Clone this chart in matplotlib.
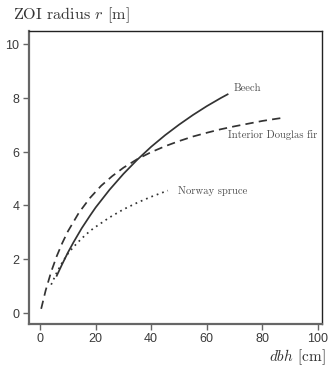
import matplotlib
matplotlib.use("Agg")
import matplotlib.pyplot as plt

# ZOI radius vs stem diameter for three species
beech_dbh = [6, 8, 10, 12, 15, 18, 20, 25, 30, 35, 40, 45, 50, 55, 60, 65, 67.5]
beech_r = [1.38, 1.82, 2.24, 2.62, 3.15, 3.62, 3.92, 4.58, 5.17, 5.70, 6.18,
           6.61, 7.00, 7.36, 7.69, 7.99, 8.13]

fir_dbh = [0.4, 2, 4, 6, 8, 10, 14, 18, 22, 26, 30, 35, 40, 45, 50, 55, 60,
           65, 70, 75, 80, 85, 87]
fir_r = [0.15, 0.83, 1.53, 2.11, 2.60, 3.03, 3.73, 4.28, 4.73, 5.09, 5.40,
         5.72, 5.98, 6.20, 6.39, 6.56, 6.70, 6.83, 6.94, 7.04, 7.14, 7.22, 7.25]

spruce_dbh = [4, 6, 8, 10, 12, 15, 18, 20, 25, 30, 35, 40, 46]
spruce_r = [1.05, 1.50, 1.88, 2.20, 2.45, 2.77, 3.05, 3.20, 3.55, 3.85, 4.10,
            4.32, 4.55]

species = ["Beech", "Interior Douglas fir", "Norway spruce"]
label_pos = [(69.8, 8.36), (67.6, 6.62), (49.6, 4.54)]

xticks = [0, 20, 40, 60, 80, 100]
yticks = [0, 2, 4, 6, 8, 10]

plt.rcParams["mathtext.fontset"] = "cm"
plt.rcParams["axes.formatter.use_mathtext"] = True

fig = plt.figure(figsize=(3.29, 3.71), dpi=100)
ax = fig.add_axes([0.088, 0.127, 0.891, 0.789])

line_col = "#333333"
ax.plot(beech_dbh, beech_r, color=line_col, lw=1.25, ls="-")
ax.plot(fir_dbh, fir_r, color=line_col, lw=1.25, ls=(0, (4.8, 3)))
ax.plot(spruce_dbh, spruce_r, color=line_col, lw=1.25, ls=(0, (1, 2.3)))

for name, (px, py) in zip(species, label_pos):
    ax.text(px, py, name, family="cmr10", fontsize=7.7, color="#505050",
            ha="left", va="center")

ax.set_xlim(-4, 101.5)
ax.set_ylim(-0.41, 10.48)
ax.set_xticks(xticks)
ax.set_yticks(yticks)

for side in ["left", "bottom"]:
    ax.spines[side].set_color("#666666")
    ax.spines[side].set_linewidth(1.6)
for side in ["top", "right"]:
    ax.spines[side].set_color("#222222")
    ax.spines[side].set_linewidth(1.0)

ax.tick_params(direction="out", length=4, width=1, color="#666666",
               labelsize=9, labelcolor="#3a3a3a", pad=2)
for lab in ax.get_xticklabels() + ax.get_yticklabels():
    lab.set_family("Liberation Sans")

fig.text(0.038, 0.958, r"ZOI radius $r$ [m]", family="cmr10", fontsize=11.6,
         color="#333333", ha="left", va="center")
fig.text(0.99, 0.038, r"$dbh$ [cm]", family="cmr10", fontsize=11,
         color="#333333", ha="right", va="center")

fig.savefig("out.png", dpi=100)
